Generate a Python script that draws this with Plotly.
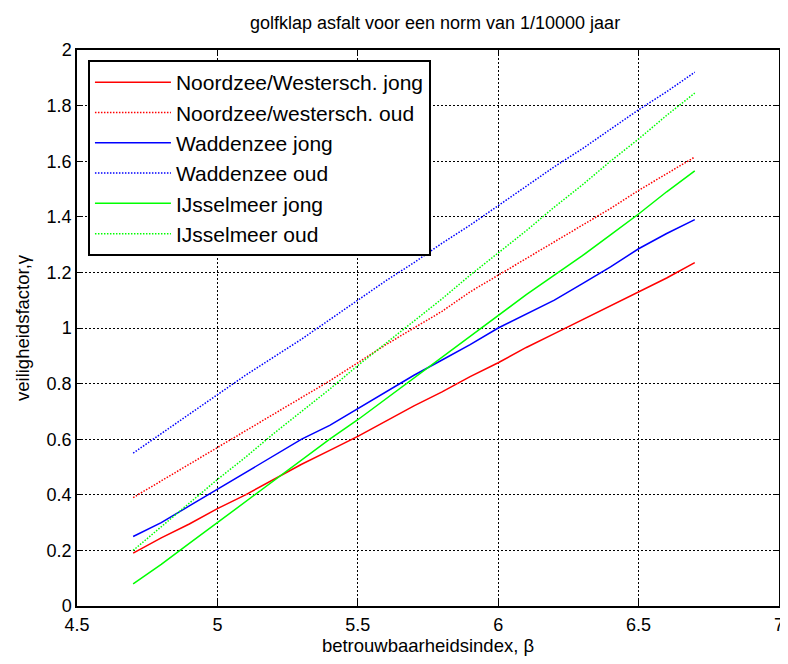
import plotly.graph_objects as go

# betrouwbaarheidsindex (beta)
beta = [4.7, 4.8, 4.9, 5.0, 5.1, 5.2, 5.3, 5.4, 5.5, 5.6, 5.7,
        5.8, 5.9, 6.0, 6.1, 6.2, 6.3, 6.4, 6.5, 6.6, 6.7]

noordzee_jong = [0.19, 0.245, 0.295, 0.35, 0.40, 0.455, 0.51, 0.56, 0.61, 0.665, 0.72,
                 0.77, 0.825, 0.875, 0.93, 0.98, 1.03, 1.08, 1.13, 1.18, 1.235]
noordzee_oud = [0.39, 0.45, 0.51, 0.57, 0.63, 0.69, 0.75, 0.81, 0.875, 0.94, 1.00,
                1.06, 1.13, 1.19, 1.25, 1.31, 1.37, 1.43, 1.495, 1.555, 1.615]
wadden_jong = [0.25, 0.30, 0.36, 0.42, 0.48, 0.54, 0.60, 0.65, 0.71, 0.77, 0.83,
               0.885, 0.94, 1.00, 1.05, 1.10, 1.16, 1.22, 1.285, 1.34, 1.39]
wadden_oud = [0.55, 0.62, 0.69, 0.76, 0.83, 0.895, 0.96, 1.03, 1.10, 1.17, 1.235,
              1.305, 1.37, 1.44, 1.51, 1.58, 1.645, 1.715, 1.785, 1.85, 1.92]
ijssel_jong = [0.08, 0.15, 0.225, 0.30, 0.375, 0.45, 0.525, 0.60, 0.67, 0.745, 0.82,
               0.895, 0.97, 1.045, 1.12, 1.19, 1.26, 1.335, 1.41, 1.49, 1.565]
ijssel_oud = [0.20, 0.285, 0.37, 0.455, 0.535, 0.62, 0.70, 0.78, 0.865, 0.945, 1.025,
              1.105, 1.19, 1.27, 1.35, 1.435, 1.515, 1.60, 1.68, 1.765, 1.845]

series = [
    ('Noordzee/Westersch. jong', noordzee_jong, '#ff0000', 'solid'),
    ('Noordzee/westersch. oud', noordzee_oud, '#ff0000', '1.5px,1.5px'),
    ('Waddenzee jong', wadden_jong, '#0000ff', 'solid'),
    ('Waddenzee oud', wadden_oud, '#0000ff', '1.5px,1.5px'),
    ('IJsselmeer jong', ijssel_jong, '#00ff00', 'solid'),
    ('IJsselmeer oud', ijssel_oud, '#00ff00', '1.5px,1.5px'),
]

fig = go.Figure()
for i, (name, vals, col, dash) in enumerate(series):
    fig.add_trace(go.Scatter(x=beta, y=vals, mode='lines', name=name,
                             legendgroup='g%d' % i,
                             line=dict(color=col, width=1.5, dash=dash)))

axis_style = dict(
    showgrid=True, gridcolor='black', griddash='2px,2px', gridwidth=1,
    zeroline=False, showline=True, linecolor='black', linewidth=1.5,
    mirror='allticks', ticks='inside', ticklen=6, tickcolor='black',
    tickfont=dict(size=18, color='black'), automargin=False,
    ticklabeloverflow='allow',
)

# page body has an 8px margin, so the figure is a bit smaller than the window
fig.update_layout(
    width=780, height=648,
    paper_bgcolor='white', plot_bgcolor='white',
    font=dict(family='Liberation Sans, Arial, sans-serif', color='black'),
    margin=dict(l=69, r=9, t=42, b=50),
    title=dict(text='golfklap asfalt voor een norm van 1/10000 jaar',
               x=0.51, xref='paper', xanchor='center', y=0.978, yanchor='middle',
               font=dict(size=18)),
    xaxis=dict(axis_style, range=[4.5, 7], dtick=0.5, ticklabelstandoff=2,
               title=dict(text='betrouwbaarheidsindex, β', font=dict(size=18.5), standoff=4)),
    yaxis=dict(axis_style, range=[0, 2], dtick=0.2,
               title=dict(text='veiligheidsfactor,γ', font=dict(size=18.5), standoff=12)),
    legend=dict(x=0.0156, y=0.982, xanchor='left', yanchor='top',
                bgcolor='white', bordercolor='black', borderwidth=2,
                font=dict(size=21), itemwidth=76, tracegroupgap=0),
    showlegend=True,
)

fig.write_html('out.html')
